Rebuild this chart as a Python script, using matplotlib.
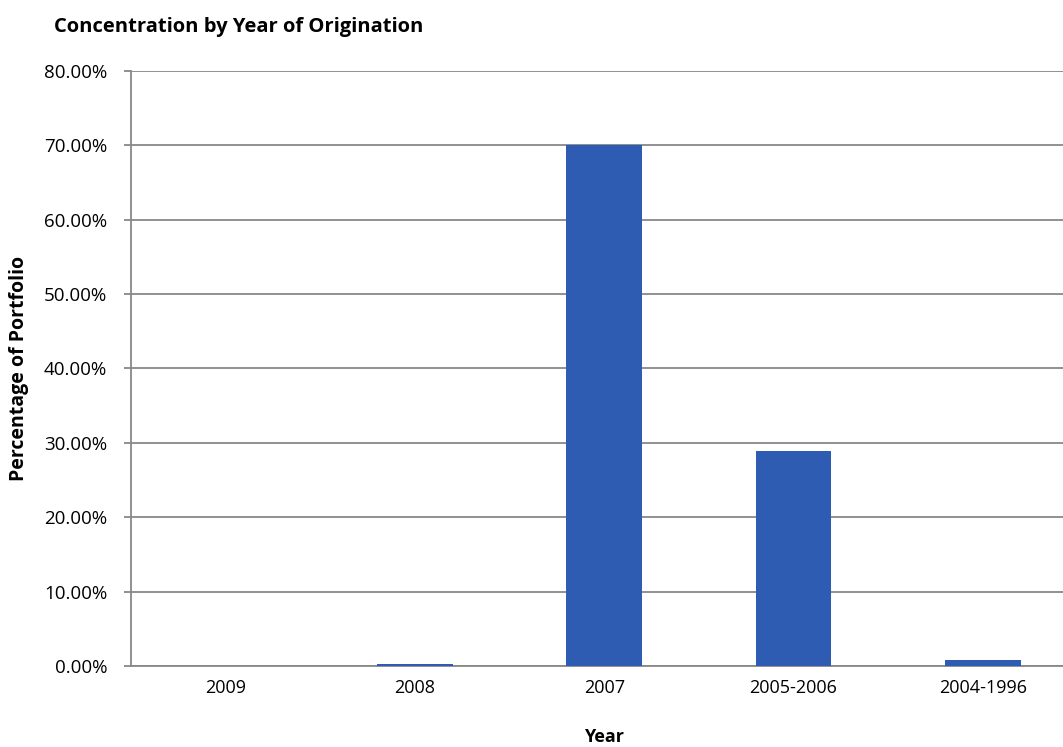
import matplotlib.pyplot as plt
from matplotlib.ticker import PercentFormatter

years = ["2009", "2008", "2007", "2005-2006", "2004-1996"]
shares = [0.0, 0.25, 70.0, 28.9, 0.8]
yticks = [0, 10, 20, 30, 40, 50, 60, 70, 80]

plt.rcParams['font.family'] = ['Open Sans', 'DejaVu Sans']

fig = plt.figure(figsize=(10.63, 7.47), dpi=100)
# plot area runs a little past the right edge, as in the reference crop
ax = fig.add_axes([0.1232, 0.1084, 0.8904, 0.7966])

x = range(len(years))
ax.bar(x, shares, width=0.40, color="#2E5CB3", zorder=3)

ax.set_xlim(-0.5, len(years) - 0.5)
ax.set_ylim(0, 80)
ax.set_yticks(yticks)
ax.yaxis.set_major_formatter(PercentFormatter(decimals=2))
ax.set_xticks(list(x))
ax.set_xticklabels(years)

ax.grid(axis="y", color="#888888", linewidth=1.3, zorder=0)
for side in ["top", "right"]:
    ax.spines[side].set_visible(False)
ax.spines["left"].set_color("#888888")
ax.spines["left"].set_linewidth(1.3)
ax.spines["bottom"].set_color("#888888")
ax.spines["bottom"].set_linewidth(1.3)
ax.tick_params(axis="y", length=5, color="#888888", width=1.3, labelsize=13.5, pad=12)
ax.tick_params(axis="x", length=0, labelsize=13, pad=9)

ax.set_xlabel("Year", fontsize=13, fontweight="bold", labelpad=23)
ax.set_ylabel("Percentage of Portfolio", fontsize=14, fontweight="bold", labelpad=11)
fig.text(0.051, 0.964, "Concentration by Year of Origination", fontsize=14.5,
         fontweight="bold", va="center")

fig.savefig("out.png", dpi=100)
